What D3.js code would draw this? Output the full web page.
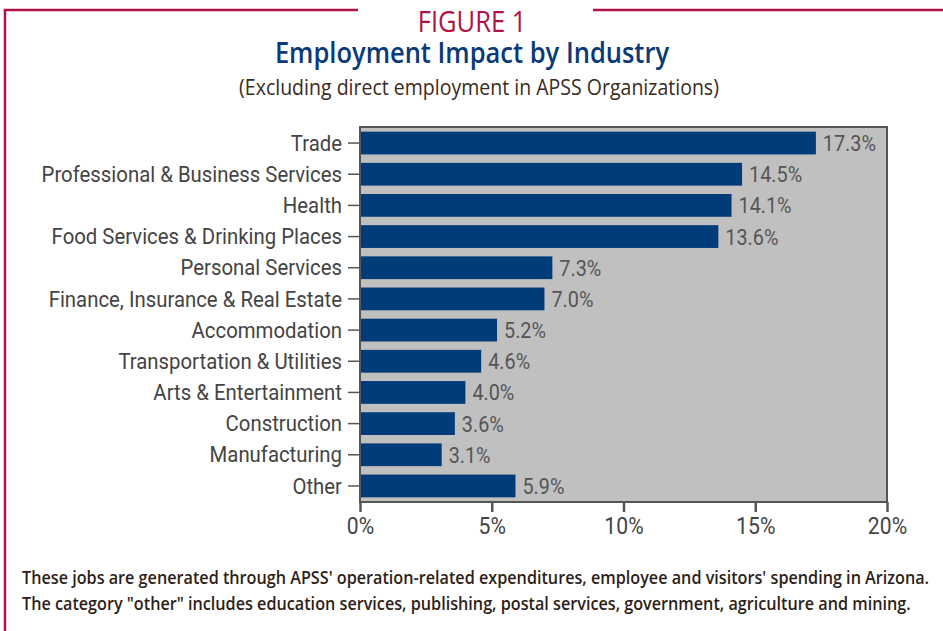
<!DOCTYPE html>
<html lang="en">
<head>
<meta charset="UTF-8">
<script src="https://d3js.org/d3.v7.min.js"></script>
<style>
body { margin:0; background:#fff; }
svg text { font-family: "Roboto", sans-serif; }
</style>
<title>Figure 1</title>
</head>
<body>
<script>
var industries = ["Trade", "Professional & Business Services", "Health", "Food Services & Drinking Places",
  "Personal Services", "Finance, Insurance & Real Estate", "Accommodation", "Transportation & Utilities",
  "Arts & Entertainment", "Construction", "Manufacturing", "Other"];
var shares = [17.3, 14.5, 14.1, 13.6, 7.3, 7.0, 5.2, 4.6, 4.0, 3.6, 3.1, 5.9];
var xTicks = [0, 5, 10, 15, 20];
var notes = ["These jobs are generated through APSS' operation-related expenditures, employee and visitors' spending in Arizona.",
  "The category \"other\" includes education services, publishing, postal services, government, agriculture and mining."];

var W = 943, H = 631;
var margin = {top: 127, right: 56, bottom: 129, left: 360},
    width = W - margin.left - margin.right,
    height = H - margin.top - margin.bottom;

var svg = d3.select("body").append("svg").attr("width", W).attr("height", H);

// squeeze a text horizontally around its own x
function narrow(sel, k) {
  sel.each(function() {
    var t = d3.select(this), tx = +t.attr("x") || 0;
    t.attr("transform", "translate(" + tx + ",0) scale(" + k + ",1) translate(" + (-tx) + ",0)");
  });
}

// frame
var red = "#b01244";
svg.append("path").attr("d", "M5,631 V10 H358").attr("fill", "none").attr("stroke", red).attr("stroke-width", 2.5);
svg.append("line").attr("x1", 593).attr("x2", 943).attr("y1", 10).attr("y2", 10).attr("stroke", red).attr("stroke-width", 2.5);

svg.append("text").attr("x", 472).attr("y", 32).attr("text-anchor", "middle")
  .style("font-family", "'Open Sans', sans-serif").style("font-size", "29px").style("font-weight", "500").attr("fill", red)
  .text("FIGURE 1").call(narrow, 0.88);
svg.append("text").attr("x", 472).attr("y", 63).attr("text-anchor", "middle")
  .style("font-family", "'Open Sans', sans-serif").style("font-size", "29px").style("font-weight", "600").attr("fill", "#0b3a78")
  .text("Employment Impact by Industry").call(narrow, 0.88);
svg.append("text").attr("x", 479).attr("y", 95).attr("text-anchor", "middle")
  .style("font-family", "'Open Sans', sans-serif").style("font-size", "21px").attr("fill", "#3b2a22")
  .text("(Excluding direct employment in APSS Organizations)").call(narrow, 0.93);

var g = svg.append("g").attr("transform", "translate(" + margin.left + "," + margin.top + ")");

var x = d3.scaleLinear().domain([0, 20]).range([0, width]);
var y = d3.scaleBand().domain(industries).range([0, height]).paddingInner(0.27).paddingOuter(0.15);

g.append("rect").attr("width", width).attr("height", height).attr("fill", "#c0c0c0")
  .attr("stroke", "#555").attr("stroke-width", 2);

g.selectAll(".bar").data(industries).enter().append("rect")
  .attr("class", "bar")
  .attr("x", 1)
  .attr("y", function(d) { return y(d); })
  .attr("width", function(d, i) { return x(shares[i]) - 1; })
  .attr("height", y.bandwidth())
  .attr("fill", "#003b7a");

g.selectAll(".val").data(industries).enter().append("text")
  .attr("class", "val")
  .attr("x", function(d, i) { return x(shares[i]) + 7; })
  .attr("y", function(d) { return y(d) + y.bandwidth() / 2 + 8; })
  .style("font-size", "22px").attr("fill", "#555")
  .text(function(d, i) { return shares[i].toFixed(1) + "%"; })
  .call(narrow, 0.9);

var yAxis = g.append("g").call(d3.axisLeft(y).tickSize(12).tickPadding(6));
yAxis.select(".domain").remove();
yAxis.selectAll("line").attr("stroke", "#555").attr("stroke-width", 1.5);
yAxis.selectAll("text").style("font-size", "22px").attr("fill", "#444").attr("dy", "0.35em")
  .call(narrow, 0.925);

var xAxis = g.append("g").attr("transform", "translate(0," + height + ")")
  .call(d3.axisBottom(x).tickValues(xTicks).tickSize(10).tickPadding(6).tickFormat(function(d) { return d + "%"; }));
xAxis.select(".domain").remove();
xAxis.selectAll("line").attr("stroke", "#555").attr("stroke-width", 2.5);
xAxis.selectAll("text").style("font-size", "23px").attr("fill", "#444").call(narrow, 0.92);

svg.selectAll(".note").data(notes).enter().append("text")
  .attr("class", "note")
  .attr("x", 22)
  .attr("y", function(d, i) { return 584 + i * 26; })
  .style("font-family", "'Open Sans', sans-serif").style("font-size", "18px").style("font-weight", "600")
  .attr("fill", "#2e1e18")
  .text(function(d) { return d; })
  .call(narrow, 0.9);
</script>
</body>
</html>
